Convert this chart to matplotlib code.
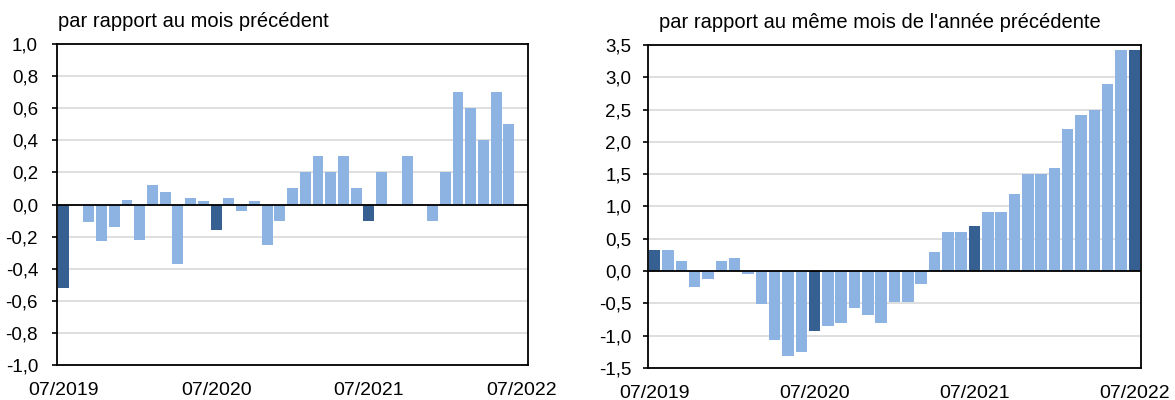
import numpy as np
import matplotlib.pyplot as plt
from matplotlib.ticker import FuncFormatter

plt.rcParams['font.family'] = ['Liberation Sans', 'DejaVu Sans']

# mois de 07/2019 à 07/2022
mois = ['07/2019', '08/2019', '09/2019', '10/2019', '11/2019', '12/2019',
        '01/2020', '02/2020', '03/2020', '04/2020', '05/2020', '06/2020',
        '07/2020', '08/2020', '09/2020', '10/2020', '11/2020', '12/2020',
        '01/2021', '02/2021', '03/2021', '04/2021', '05/2021', '06/2021',
        '07/2021', '08/2021', '09/2021', '10/2021', '11/2021', '12/2021',
        '01/2022', '02/2022', '03/2022', '04/2022', '05/2022', '06/2022',
        '07/2022']

# variation par rapport au mois précédent
var_mensuelle = [-0.52, 0.0, -0.11, -0.23, -0.14, 0.03, -0.22, 0.12, 0.08, -0.37,
                 0.04, 0.02, -0.16, 0.04, -0.04, 0.02, -0.25, -0.10, 0.10, 0.20,
                 0.30, 0.20, 0.30, 0.10, -0.10, 0.20, 0.0, 0.30, 0.0, -0.10,
                 0.20, 0.70, 0.60, 0.40, 0.70, 0.50, 0.0]

# variation par rapport au même mois de l'année précédente
var_annuelle = [0.33, 0.33, 0.16, -0.25, -0.13, 0.16, 0.21, -0.04, -0.51, -1.06,
                -1.31, -1.26, -0.92, -0.85, -0.80, -0.57, -0.68, -0.80, -0.48, -0.48,
                -0.20, 0.30, 0.61, 0.61, 0.70, 0.91, 0.91, 1.20, 1.51, 1.51,
                1.60, 2.20, 2.41, 2.49, 2.90, 3.42, 3.42]

titres = ['par rapport au mois précédent',
          "par rapport au même mois de l'année précédente"]
limites = [(-1.0, 1.0, 0.2), (-1.5, 3.5, 0.5)]

clair = '#8DB3E2'
fonce = '#376092'
couleurs = [fonce if m.startswith('07/') else clair for m in mois]

fig = plt.figure(figsize=(11.75, 4.0), dpi=100)
ax1 = fig.add_axes([0.0485, 0.0875, 0.4009, 0.8025])
ax2 = fig.add_axes([0.5515, 0.08, 0.4196, 0.8075])


def virgule(v, p):
    s = f'{round(v, 1):.1f}'.replace('.', ',')
    return '0,0' if s == '-0,0' else s


x = np.arange(len(mois))
pos_lab = [i for i, m in enumerate(mois) if m.startswith('07/')]

for ax, vals, titre, (ymin, ymax, pas), ypad, tx in zip(
        [ax1, ax2], [var_mensuelle, var_annuelle], titres, limites, [10, 8.5], [0.002, 0.022]):
    ax.bar(x, vals, width=0.86, color=couleurs, zorder=2)
    ax.set_xlim(-0.5, len(mois) - 0.5)
    ax.set_ylim(ymin, ymax)
    ax.set_yticks(np.arange(ymin, ymax + pas / 2, pas))
    ax.yaxis.set_major_formatter(FuncFormatter(virgule))
    ax.grid(axis='y', color='#D9D9D9', linewidth=1.2, zorder=0)
    ax.axhline(0, color='black', linewidth=1.3, zorder=3)
    ax.set_xticks(pos_lab)
    ax.set_xticklabels([mois[i] for i in pos_lab])
    ax.tick_params(axis='x', length=0, pad=12, labelsize=14)
    ax.tick_params(axis='y', length=3.6, width=1.2, pad=ypad, labelsize=13.5)
    for s in ax.spines.values():
        s.set_linewidth(1.3)
    ax.text(tx, 1.04, titre, transform=ax.transAxes,
            fontsize=14.5, ha='left', va='bottom')

fig.savefig('out.png', dpi=100)
